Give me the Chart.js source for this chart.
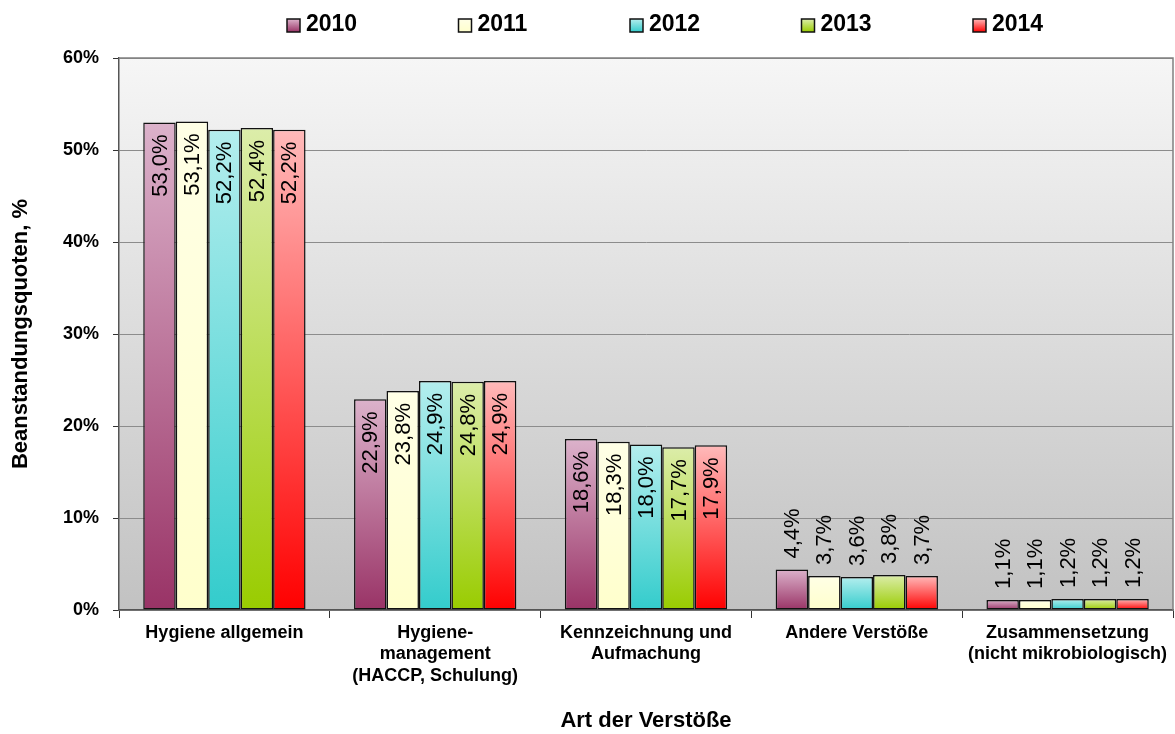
<!DOCTYPE html>
<html>
<head>
<meta charset="utf-8">
<script src="https://cdn.jsdelivr.net/npm/chart.js@4/dist/chart.umd.min.js"></script>
<style>
  html, body { margin: 0; padding: 0; background: #ffffff; }
  #wrap { width: 1175px; height: 734px; }
</style>
</head>
<body>
<div id="wrap"><canvas id="c" width="1175" height="734"></canvas></div>
<script>
const categories = [
  "Hygiene allgemein",
  ["Hygiene-", "management", "(HACCP, Schulung)"],
  ["Kennzeichnung und", "Aufmachung"],
  "Andere Verstöße",
  ["Zusammensetzung", "(nicht mikrobiologisch)"]
];
const years = ["2010", "2011", "2012", "2013", "2014"];
const v2010 = [53.0, 22.9, 18.6, 4.4, 1.1];
const v2011 = [53.1, 23.8, 18.3, 3.7, 1.1];
const v2012 = [52.2, 24.9, 18.0, 3.6, 1.2];
const v2013 = [52.4, 24.8, 17.7, 3.8, 1.2];
const v2014 = [52.2, 24.9, 17.9, 3.7, 1.2];
const yTicks = [0, 10, 20, 30, 40, 50, 60];
const yTitle = "Beanstandungsquoten, %";
const xTitle = "Art der Verstöße";

const series = [v2010, v2011, v2012, v2013, v2014];
const lightColors = ["#dcb2cb", "#ffffe6", "#b4eeee", "#dcedaa", "#ffbaba"];
const darkColors  = ["#993366", "#ffffcc", "#33cccc", "#99cc00", "#ff0000"];
const FONT = "'Liberation Sans', Arial, sans-serif";

function barGradient(i) {
  return function (ctx) {
    if (ctx.type !== 'data') return darkColors[i];
    const chart = ctx.chart;
    const ys = chart.scales.y;
    if (!chart.chartArea || !ys) return darkColors[i];
    const top = ys.getPixelForValue(ctx.raw);
    const base = ys.getPixelForValue(0);
    if (!isFinite(top) || !isFinite(base) || top === base) return darkColors[i];
    const g = chart.ctx.createLinearGradient(0, top, 0, base);
    g.addColorStop(0, lightColors[i]);
    g.addColorStop(1, darkColors[i]);
    return g;
  };
}

const datasets = years.map((y, i) => ({
  label: y,
  data: series[i],
  backgroundColor: barGradient(i),
  borderColor: "#111111",
  borderWidth: 1.5,
  borderSkipped: false,
  barPercentage: 1.0,
  categoryPercentage: 0.77
}));

const bgPlugin = {
  id: 'plotBg',
  beforeDraw(chart) {
    const {ctx, chartArea: a} = chart;
    ctx.save();
    const g = ctx.createLinearGradient(0, a.top, 0, a.bottom);
    g.addColorStop(0, "#f6f6f6");
    g.addColorStop(1, "#c2c2c2");
    ctx.fillStyle = g;
    ctx.fillRect(a.left, a.top, a.right - a.left, a.bottom - a.top);
    ctx.restore();
  },
  afterDraw(chart) {
    const {ctx, chartArea: a} = chart;
    ctx.save();
    ctx.strokeStyle = "#808080";
    ctx.lineWidth = 1.5;
    ctx.beginPath();
    ctx.moveTo(a.left, a.top);
    ctx.lineTo(a.right, a.top);
    ctx.lineTo(a.right, a.bottom);
    ctx.stroke();
    ctx.restore();
  }
};

const labelPlugin = {
  id: 'valueLabels',
  afterDatasetsDraw(chart) {
    const ctx = chart.ctx;
    ctx.save();
    ctx.fillStyle = "#000000";
    ctx.font = "22px " + FONT;
    ctx.textBaseline = 'middle';
    chart.data.datasets.forEach((ds, di) => {
      const meta = chart.getDatasetMeta(di);
      meta.data.forEach((bar, j) => {
        const v = ds.data[j];
        const txt = v.toFixed(1).replace('.', ',') + '%';
        ctx.save();
        if (v >= 10) {
          ctx.translate(bar.x, bar.y + 12);
          ctx.rotate(-Math.PI / 2);
          ctx.textAlign = 'right';
        } else {
          ctx.translate(bar.x, bar.y - 11);
          ctx.rotate(-Math.PI / 2);
          ctx.textAlign = 'left';
        }
        ctx.fillText(txt, 0, 1);
        ctx.restore();
      });
    });
    ctx.restore();
  }
};

const legendPlugin = {
  id: 'topLegend',
  afterDraw(chart) {
    const ctx = chart.ctx;
    ctx.save();
    ctx.font = "bold 23px " + FONT;
    ctx.textBaseline = 'middle';
    ctx.textAlign = 'left';
    const startX = 287, pitch = 171.5, boxY = 19, box = 13;
    chart.data.datasets.forEach((ds, i) => {
      const x = startX + i * pitch;
      const g = ctx.createLinearGradient(0, boxY, 0, boxY + box);
      g.addColorStop(0, lightColors[i]);
      g.addColorStop(1, darkColors[i]);
      ctx.fillStyle = g;
      ctx.fillRect(x, boxY, box, box);
      ctx.strokeStyle = "#111";
      ctx.lineWidth = 1.5;
      ctx.strokeRect(x, boxY, box, box);
      ctx.fillStyle = "#000";
      ctx.fillText(ds.label, x + box + 6, 25);
    });
    ctx.restore();
  }
};

new Chart(document.getElementById('c'), {
  type: 'bar',
  data: { labels: categories, datasets: datasets },
  options: {
    responsive: false,
    animation: false,
    devicePixelRatio: 1,
    layout: { padding: { top: 58, right: 2, left: 0, bottom: 0 } },
    plugins: {
      legend: { display: false },
      tooltip: { enabled: false }
    },
    scales: {
      x: {
        afterFit(scale) { scale.height = 124; },
        grid: {
          display: true, offset: true, drawOnChartArea: false,
          tickLength: 8, color: "#333", lineWidth: 1
        },
        border: { display: true, color: "#555", width: 1.5 },
        ticks: {
          color: "#000", autoSkip: false, maxRotation: 0, minRotation: 0, padding: 4,
          font: { family: FONT, size: 18, weight: 'bold', lineHeight: 1.2 }
        },
        title: {
          display: true, text: xTitle, color: "#000",
          font: { family: FONT, size: 22, weight: 'bold' },
          padding: { top: 0, bottom: 0 }
        }
      },
      y: {
        min: 0, max: 60,
        afterFit(scale) { scale.width = 119; },
        afterBuildTicks(scale) { scale.ticks = yTicks.map(v => ({ value: v })); },
        grid: {
          color: "#8c8c8c", lineWidth: 1, tickLength: 6, tickColor: "#333"
        },
        border: { display: true, color: "#555", width: 1.5 },
        ticks: {
          color: "#000", padding: 14,
          font: { family: FONT, size: 18, weight: 'bold' },
          callback: v => v + '%'
        },
        title: {
          display: true, text: yTitle, color: "#000",
          font: { family: FONT, size: 22, weight: 'bold' },
          padding: { top: 8, bottom: 0 }
        }
      }
    }
  },
  plugins: [bgPlugin, labelPlugin, legendPlugin]
});
</script>
</body>
</html>
